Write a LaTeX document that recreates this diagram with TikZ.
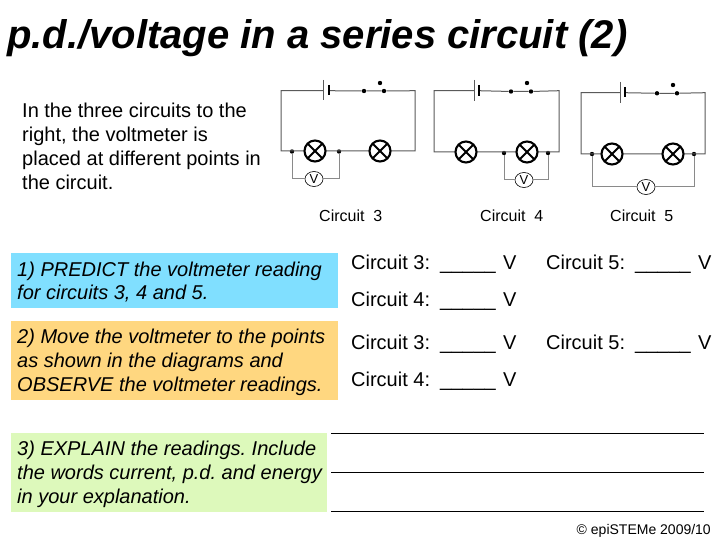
\documentclass[tikz,border=0pt]{standalone}
\usepackage{fontspec}
\setmainfont{Liberation Sans}
\usetikzlibrary{shapes.geometric}
\definecolor{boxblue}{HTML}{80DFFF}
\definecolor{boxorange}{HTML}{FFD780}
\definecolor{boxgreen}{HTML}{DDF9BB}
\definecolor{wire}{HTML}{5A5A5A}
\definecolor{vwire}{HTML}{8A8A8A}
\tikzset{
 wirel/.style={draw=wire,line width=1pt},
 graywire/.style={draw=vwire,line width=1pt},
 lamp/.style={circle,draw=black,line width=2.1pt,fill=white,minimum size=21pt,inner sep=0pt,path picture={\draw[black,line width=1.8pt] ([shift={(3pt,-3pt)}]path picture bounding box.north west) -- ([shift={(-3pt,3pt)}]path picture bounding box.south east);\draw[black,line width=1.8pt] ([shift={(3pt,3pt)}]path picture bounding box.south west) -- ([shift={(-3pt,-3pt)}]path picture bounding box.north east);}},
 vm/.style={ellipse,draw=black,line width=0.6pt,fill=white,minimum width=18pt,minimum height=15pt,inner sep=0pt,font=\fontsize{13}{13}\selectfont},
 jn/.style={circle,fill=black,minimum size=4.4pt,inner sep=0pt},
 body/.style={anchor=base west,inner sep=0pt,font=\fontsize{20}{24}\selectfont},
 ital/.style={anchor=base west,inner sep=0pt,font=\fontsize{20}{24}\selectfont\itshape},
 captext/.style={anchor=base west,inner sep=0pt,font=\fontsize{16}{20}\selectfont},
 rulel/.style={draw=black,line width=0.7pt},
}
\newcommand{\reading}[1]{\makebox[89pt][l]{Circuit #1:}\makebox[63pt][l]{\_\_\_\_\_}V}
\begin{document}
\frenchspacing
\begin{tikzpicture}[x=1pt,y=-1pt]
\useasboundingbox (0,0) rectangle (720,540);
\fill[white] (0,0) rectangle (720,540);
\node[anchor=base west,inner sep=0pt,font=\fontsize{40}{44}\selectfont\bfseries\itshape] (title) at (7,49) {p.d./voltage in a series circuit (2)};
\node[body] (i1) at (22,118) {In the three circuits to the};
\node[body] (i2) at (22,142) {right, the voltmeter is};
\node[body] (i3) at (22,166) {placed at different points in};
\node[body] (i4) at (22,190) {the circuit.};

% Circuit A
\coordinate (atl) at (281,90.7); \coordinate (atr) at (415,90.7);
\coordinate (abl) at (281,151); \coordinate (abr) at (415,151);
\coordinate (ab1) at (323,90.7); \coordinate (ab2) at (329,90.7);
\node[jn] (as1) at (364,91) {}; \node[jn] (as2) at (384,91) {}; \node[jn] (as3) at (380,83) {};
\node[jn] (aj1) at (292,151.5) {}; \node[jn] (aj2) at (339,151.5) {};
\coordinate (al1c) at (315,151); \coordinate (al2c) at (380,151);
\node[vm] (av) at (314,179) {V};
\draw[wirel] (ab1) -- (atl) -- (abl) -- (abr) -- (atr) -- (as2) -- (as1) -- (ab2);
\draw[wirel] (323,80) -- (323,100);
\draw[line width=2.4pt,black] (329,85) -- (329,95);
\draw[graywire] (aj1) |- (av) -| (aj2);
\node[lamp] (al1) at (al1c) {}; \node[lamp] (al2) at (al2c) {};

% Circuit B
\coordinate (btl) at (434,90.7); \coordinate (btr) at (559,90.7);
\coordinate (bbl) at (434,152); \coordinate (bbr) at (559,152);
\coordinate (bb1) at (474,90.7); \coordinate (bb2) at (479,90.7);
\node[jn] (bs1) at (511,91.5) {}; \node[jn] (bs2) at (531,91.5) {}; \node[jn] (bs3) at (527,83) {};
\node[jn] (bj1) at (504,153) {}; \node[jn] (bj2) at (548,153) {};
\coordinate (bl1c) at (466,152); \coordinate (bl2c) at (527,152);
\node[vm] (bv) at (524,180) {V};
\draw[wirel] (bb1) -- (btl) -- (bbl) -- (bbr) -- (btr) -- (bs2) -- (bs1) -- (bb2);
\draw[wirel] (474,80) -- (474,101);
\draw[line width=2.4pt,black] (479,85) -- (479,96);
\draw[graywire] (bj1) |- (bv) -| (bj2);
\node[lamp] (bl1) at (bl1c) {}; \node[lamp] (bl2) at (bl2c) {};

% Circuit C
\coordinate (ctl) at (581,92.7); \coordinate (ctr) at (705,92.7);
\coordinate (cbl) at (581,154); \coordinate (cbr) at (705,154);
\coordinate (cb1) at (620,92.7); \coordinate (cb2) at (625,92.7);
\node[jn] (cs1) at (657,93.3) {}; \node[jn] (cs2) at (677,93.3) {}; \node[jn] (cs3) at (673,85) {};
\node[jn] (cj1) at (592,154) {}; \node[jn] (cj2) at (694,154) {};
\coordinate (cl1c) at (612,154); \coordinate (cl2c) at (673,154);
\node[vm] (cv) at (646,187) {V};
\draw[wirel] (cb1) -- (ctl) -- (cbl) -- (cbr) -- (ctr) -- (cs2) -- (cs1) -- (cb2);
\draw[wirel] (620,82) -- (620,103);
\draw[line width=2.4pt,black] (625,87) -- (625,97);
\draw[graywire] (cj1) |- (cv) -| (cj2);
\node[lamp] (cl1) at (cl1c) {}; \node[lamp] (cl2) at (cl2c) {};

\node[captext] (c3) at (319,222) {Circuit\ \ 3};
\node[captext] (c4) at (480,222) {Circuit\ \ 4};
\node[captext] (c5) at (610,222) {Circuit\ \ 5};

\fill[boxblue] (11,253) rectangle (338,308);
\fill[boxorange] (11,321) rectangle (338,400);
\fill[boxgreen] (11,433) rectangle (327,512);
\node[ital] (t1) at (17,276) {1) PREDICT the voltmeter reading};
\node[ital] (t2) at (17,299) {for circuits 3, 4 and 5.};
\node[ital] (t3) at (17,343) {2) Move the voltmeter to the points};
\node[ital] (t4) at (17,367) {as shown in the diagrams and};
\node[ital] (t5) at (17,391) {OBSERVE the voltmeter readings.};
\node[ital] (t6) at (17,455) {3) EXPLAIN the readings. Include};
\node[ital] (t7) at (17,479) {the words current, p.d. and energy};
\node[ital] (t8) at (17,503) {in your explanation.};

\node[body] (r1) at (351,269) {\reading{3}};
\node[body] (r2) at (546,269) {\reading{5}};
\node[body] (r3) at (351,306) {\reading{4}};
\node[body] (r4) at (351,349) {\reading{3}};
\node[body] (r5) at (546,349) {\reading{5}};
\node[body] (r6) at (351,386) {\reading{4}};

\coordinate (r1a) at (331,433); \coordinate (r1b) at (704,433);
\coordinate (r2a) at (331,472); \coordinate (r2b) at (704,472);
\coordinate (r3a) at (331,511); \coordinate (r3b) at (704,511);
\draw[rulel] (r1a) -- (r1b); \draw[rulel] (r2a) -- (r2b); \draw[rulel] (r3a) -- (r3b);
\node[anchor=base east,inner sep=0pt,font=\fontsize{14}{16}\selectfont] (copy) at (711,534) {© epiSTEMe 2009/10};
\end{tikzpicture}
\end{document}
